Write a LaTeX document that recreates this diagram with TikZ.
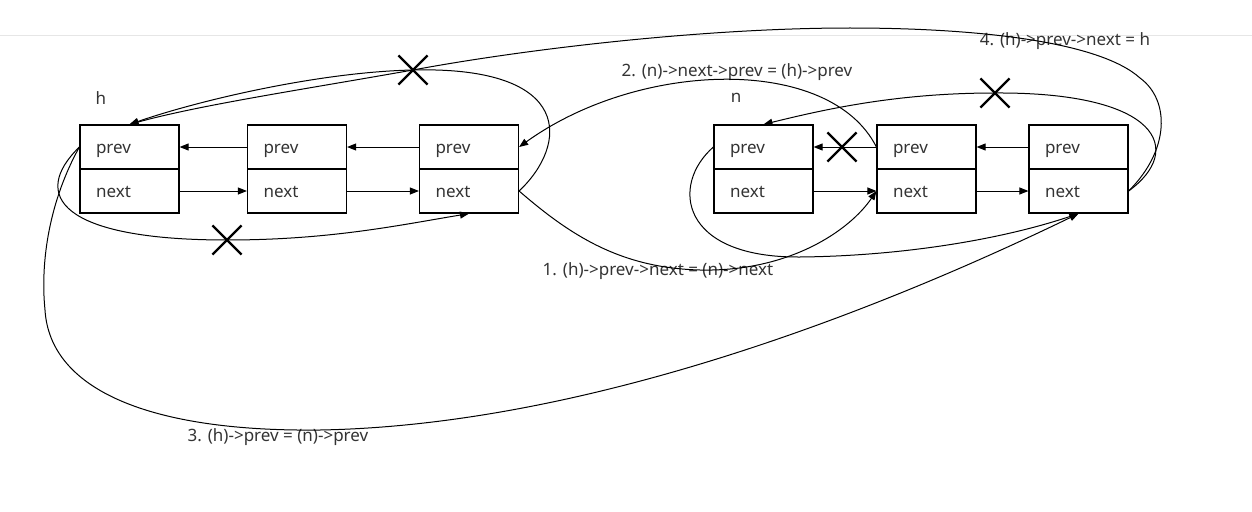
\documentclass[tikz,border=0pt]{standalone}
\usepackage{fontspec}
\setmainfont{Noto Sans}
\usetikzlibrary{arrows.meta,shapes.misc}
\definecolor{txt}{HTML}{333333}
\definecolor{sep}{HTML}{E6E6E6}
\begin{document}
\begin{tikzpicture}[x=1pt,y=-1pt,
  cell/.style={draw=black,line width=1.2pt,minimum width=99pt,minimum height=44pt,
    inner xsep=16pt,inner ysep=0pt,text width=67pt,align=left,text=txt,
    text height=12pt,text depth=0pt,
    font=\fontsize{17}{20}\selectfont},
  lbl/.style={text=txt,inner sep=0pt,font=\fontsize{17}{20}\selectfont},
  link/.style={draw=black,line width=1pt,-{Triangle[length=9pt,width=7pt]}},
  xmark/.style={cross out,draw=black,line width=2.2pt,minimum size=27pt,inner sep=0pt},
]
\useasboundingbox (0,0) rectangle (1252,511);
\draw[sep,line width=1pt] (0,36) -- (1252,36);

% cells
\node[cell] (Ap) at (129.5,147) {prev};
\node[cell] (An) at (129.5,191) {next};
\node[cell] (Bp) at (297,147) {prev};
\node[cell] (Bn) at (297,191) {next};
\node[cell] (Cp) at (469,147) {prev};
\node[cell] (Cn) at (469,191) {next};
\node[cell] (Dp) at (763.5,147) {prev};
\node[cell] (Dn) at (763.5,191) {next};
\node[cell] (Ep) at (926.5,147) {prev};
\node[cell] (En) at (926.5,191) {next};
\node[cell] (Fp) at (1078.5,147) {prev};
\node[cell] (Fn) at (1078.5,191) {next};

% labels
\node[lbl] (hl) at (101,98) {h};
\node[lbl] (nl) at (736,98) {n};
\node[lbl] (l1) at (658,271) {1. (h)->prev->next = (n)->next};
\node[lbl] (l2) at (737,72) {2. (n)->next->prev = (h)->prev};
\node[lbl] (l3) at (278,437) {3. (h)->prev = (n)->prev};
\node[lbl] (l4) at (1065,41) {4. (h)->prev->next = h};

% cross marks
\node[xmark] (x1) at (413,70) {};
\node[xmark] (x2) at (227,240) {};
\node[xmark] (x3) at (842,147) {};
\node[xmark] (x4) at (995,93) {};

% straight links
\draw[link] (Bp.west) -- (Ap.east);
\draw[link] (Cp.west) -- (Bp.east);
\draw[link] (An.east) -- (Bn.west);
\draw[link] (Bn.east) -- (Cn.west);
\draw[link] (Ep.west) -- (Dp.east);
\draw[link] (Fp.west) -- (Ep.east);
\draw[link] (Dn.east) -- (En.west);
\draw[link] (En.east) -- (Fn.west);

% old links (crossed)
\draw[link] (Ap.west) .. controls (30,195) and (60,240) .. (x2.center)
  .. controls (330,240) and (400,225) .. (Cn.south);
\draw[link] (Cn.east) .. controls (568,145) and (575,66) .. (x1.center)
  .. controls (320,72) and (200,100) .. (Ap.north);
\draw[link] (Fn.east) .. controls (1185,150) and (1160,92) .. (x4.center)
  .. controls (900,93) and (830,108) .. (Dp.north);
\draw[link] (Dp.west) .. controls (670,185) and (680,258) .. (800,257)
  .. controls (900,256) and (1000,240) .. (Fn.south);

% new links
\draw[link] (Cn.east) .. controls (570,235) and (620,268) .. (700,270)
  .. controls (790,272) and (850,230) .. (En.west);
\draw[link] (Ep.west) .. controls (830,55) and (640,60) .. (Cp.east);
\draw[link] (Ap.west) .. controls (50,200) and (40,260) .. (45,310)
  .. controls (50,390) and (150,432) .. (320,430)
  .. controls (600,425) and (900,300) .. (Fn.south);
\draw[link] (Fn.east) .. controls (1170,150) and (1170,100) .. (1140,78)
  .. controls (1100,42) and (980,28) .. (850,28)
  .. controls (700,28) and (520,50) .. (x1.center)
  .. controls (300,90) and (200,105) .. (Ap.north);
\end{tikzpicture}
\end{document}
